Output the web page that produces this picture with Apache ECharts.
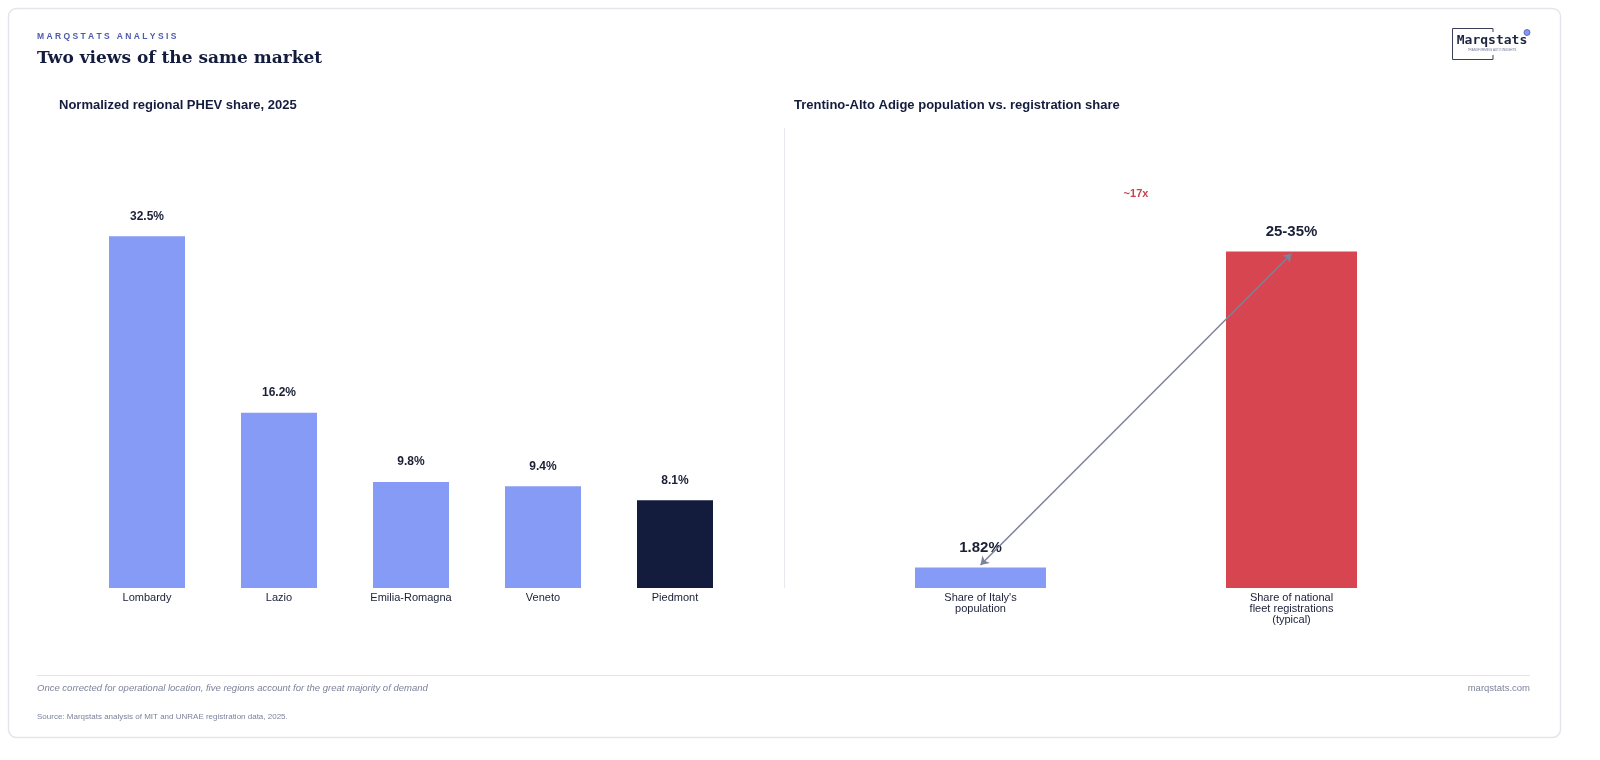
<!DOCTYPE html>
<html>
<head>
<meta charset="utf-8">
<script src="https://cdn.jsdelivr.net/npm/echarts@6/dist/echarts.min.js"></script>
<style>
  html, body { margin: 0; padding: 0; background: #fff; }
  #chart { width: 1600px; height: 760px; }
</style>
</head>
<body>
<div id="chart"></div>
<script>
const regions = ['Lombardy', 'Lazio', 'Emilia-Romagna', 'Veneto', 'Piedmont'];
const regionShare = [32.5, 16.2, 9.8, 9.4, 8.1];
const compareCats = ["Share of Italy's\npopulation", 'Share of national\nfleet registrations\n(typical)'];
const compareValues = [1.82, 30];
const compareLabels = ['1.82%', '25-35%'];

const font = 'Liberation Sans, Arial, sans-serif';
const chart = echarts.init(document.getElementById('chart'));

chart.setOption({
    animation: false,
    grid: [
        { left: 81, width: 660, top: 128, bottom: 172 },
        { left: 825, width: 622, top: 128, bottom: 172 }
    ],
    xAxis: [
        { gridIndex: 0, type: 'category', data: regions,
          axisLine: { show: false }, axisTick: { show: false },
          axisLabel: { color: '#1a1f36', fontSize: 11, fontFamily: font, margin: 4 } },
        { gridIndex: 1, type: 'category', data: compareCats,
          axisLine: { show: false }, axisTick: { show: false },
          axisLabel: { color: '#1a1f36', fontSize: 11, fontFamily: font, margin: 4, lineHeight: 11 } }
    ],
    yAxis: [
        { gridIndex: 0, type: 'value', min: 0, max: 42.5, show: false },
        { gridIndex: 1, type: 'value', min: 0, max: 41, show: false }
    ],
    series: [
        {
            type: 'bar', xAxisIndex: 0, yAxisIndex: 0, barWidth: 76,
            data: regionShare.map((v, i) => ({
                value: v,
                itemStyle: { color: i === regions.length - 1 ? '#141c3e' : '#869bf5' }
            })),
            label: { show: true, position: 'top', distance: 14, formatter: p => p.value + '%',
                     color: '#1a1f36', fontWeight: 'bold', fontSize: 12, fontFamily: font }
        },
        {
            type: 'bar', xAxisIndex: 1, yAxisIndex: 1, barWidth: 131,
            data: compareValues.map((v, i) => ({
                value: v,
                itemStyle: { color: i === 0 ? '#869bf5' : '#d64550' }
            })),
            label: { show: true, position: 'top', distance: 12, formatter: p => compareLabels[p.dataIndex],
                     color: '#1a1f36', fontWeight: 'bold', fontSize: 15, fontFamily: font },
            markLine: {
                silent: true,
                symbol: ['arrow', 'arrow'], symbolSize: 8,
                label: { show: false },
                lineStyle: { color: '#7d829b', width: 1.5, type: 'solid' },
                data: [[
                    { coord: [0, 2.05] },
                    { coord: [1, 29.8] }
                ]]
            }
        }
    ],
    graphic: [
        { type: 'rect', shape: { x: 8.5, y: 8.5, width: 1552, height: 729, r: 8 },
          style: { fill: 'none', stroke: '#e3e5ea', lineWidth: 1.5 }, z: -1 },
        { type: 'text', left: 37, top: 32, style: { text: 'M A R Q S T A T S   A N A L Y S I S', fill: '#4f5bab', fontSize: 8.5, fontWeight: 'bold', fontFamily: font } },
        { type: 'text', left: 37, top: 50, style: { text: 'Two views of the same market', fill: '#141c3e', fontSize: 17, fontWeight: 'bold', fontFamily: 'DejaVu Serif, serif' } },
        { type: 'text', left: 59, top: 99, style: { text: 'Normalized regional PHEV share, 2025', fill: '#141c3e', fontSize: 13, fontWeight: 'bold', fontFamily: font } },
        { type: 'text', left: 794, top: 99, style: { text: 'Trentino-Alto Adige population vs. registration share', fill: '#141c3e', fontSize: 13, fontWeight: 'bold', fontFamily: font } },
        { type: 'line', shape: { x1: 784.5, y1: 128, x2: 784.5, y2: 588 }, style: { stroke: '#e6e8ee', lineWidth: 1 } },
        { type: 'text', x: 1136, y: 194, style: { text: '~17x', fill: '#c8414b', fontSize: 11, fontWeight: 'bold', fontFamily: font, align: 'center', verticalAlign: 'middle' } },
        { type: 'line', shape: { x1: 37, y1: 675.5, x2: 1530, y2: 675.5 }, style: { stroke: '#e3e5ea', lineWidth: 1 } },
        { type: 'text', left: 37, top: 683, style: { text: 'Once corrected for operational location, five regions account for the great majority of demand', fill: '#7d829b', fontSize: 9.5, fontStyle: 'italic', fontFamily: font } },
        { type: 'text', x: 1530, y: 683, style: { text: 'marqstats.com', fill: '#7d829b', fontSize: 9.5, fontFamily: font, align: 'right' } },
        { type: 'text', left: 37, top: 713, style: { text: 'Source: Marqstats analysis of MIT and UNRAE registration data, 2025.', fill: '#7d829b', fontSize: 8, fontFamily: font } },
        // logo
        { type: 'polyline', shape: { points: [[1493, 28.5], [1452.5, 28.5], [1452.5, 59.5], [1493, 59.5], [1493, 55]] }, style: { fill: 'none', stroke: '#3a3f58', lineWidth: 1 } },
        { type: 'line', shape: { x1: 1493, y1: 28.5, x2: 1493, y2: 32 }, style: { stroke: '#3a3f58', lineWidth: 1 } },
        { type: 'text', x: 1492, y: 41, style: { text: 'Marqstats', fill: '#1f2540', fontSize: 13, fontWeight: 'bold', fontFamily: 'DejaVu Sans Mono, monospace', align: 'center', verticalAlign: 'middle' } },
        { type: 'text', x: 1492, y: 50, style: { text: 'TRANSFORMING AUTO INSIGHTS', fill: '#6b7190', fontSize: 3, fontFamily: font, align: 'center', verticalAlign: 'middle' } },
        { type: 'circle', shape: { cx: 1527, cy: 32.5, r: 3 }, style: { fill: '#8796f0', stroke: '#4f5bab', lineWidth: 0.8 } }
    ]
});
</script>
</body>
</html>
